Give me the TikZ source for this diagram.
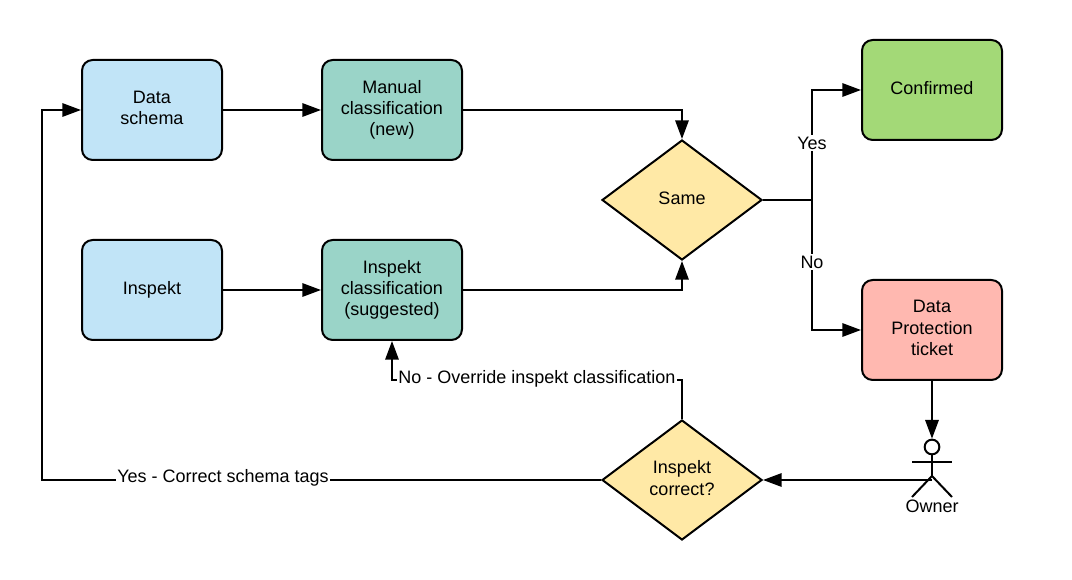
\documentclass[tikz,border=0pt]{standalone}
\usepackage{fontspec}
\setmainfont{Liberation Sans}
\usetikzlibrary{arrows.meta,shapes.geometric}
\definecolor{schemablue}{HTML}{C1E4F7}
\definecolor{classteal}{HTML}{9AD4C8}
\definecolor{decisionyellow}{HTML}{FFE9A6}
\definecolor{okgreen}{HTML}{A3D977}
\definecolor{ticketred}{HTML}{FFB8B0}
\tikzset{
    labeltext/.style={font=\fontsize{13.5}{16}\selectfont, align=center},
    box/.style={labeltext, text depth=3.2pt, draw, line width=1.5pt, rounded corners=8pt,
        minimum width=105pt, minimum height=75pt, inner sep=0pt},
    decision/.style={labeltext, text depth=3.2pt, draw, line width=1.5pt, diamond, aspect=1.333,
        fill=decisionyellow, minimum width=120pt, minimum height=90pt, inner sep=0pt},
    flow/.style={line width=1.5pt, -{Triangle[length=14pt,width=10pt]}},
    plain/.style={line width=1.5pt},
    tag/.style={labeltext, fill=white, inner sep=1pt},
}
\begin{document}
\begin{tikzpicture}[x=0.75pt,y=-0.75pt]
    \useasboundingbox (0,0) rectangle (1072,580);

    % Boxes
    \node (schema) [box,fill=schemablue] at (152,110) {Data\\schema};
    \node (manual) [box,fill=classteal] at (392,110) {Manual\\classification\\(new)};
    \node (inspekt) [box,fill=schemablue] at (152,290) {Inspekt};
    \node (suggested) [box,fill=classteal] at (392,290) {Inspekt\\classification\\(suggested)};
    \node (confirmed) [box,fill=okgreen] at (932,90) {Confirmed};
    \node (ticket) [box,fill=ticketred] at (932,330) {Data\\Protection\\ticket};

    % Decisions
    \node (same) [decision] at (682,200) {Same};
    \node (correct) [decision] at (682,480) {Inspekt\\correct?};

    % Draw owner
    \node (head) [draw,circle,line width=1.5pt,minimum size=11pt,inner sep=0pt] at (932,447) {};
    \coordinate (hip) at (932,476);
    \coordinate (waist) at (932,480);
    \coordinate (armL) at (912,462);
    \coordinate (armR) at (952,462);
    \coordinate (footL) at (912,497);
    \coordinate (footR) at (952,497);
    \draw[plain] (head.south) -- (hip);
    \draw[plain] (armL) -- (armR);
    \draw[plain] (footL) -- (hip) -- (footR);
    \node (owner) [labeltext] at (932,506) {Owner};

    % Connectors
    \draw[flow] (schema) -- (manual);
    \draw[flow] (inspekt) -- (suggested);
    \draw[flow] (manual.east) -| (same.north);
    \draw[flow] (suggested.east) -| (same.south);
    \coordinate (split) at (812,200);
    \draw[plain] (same.east) -- (split);
    \draw[flow] (split) |- (confirmed.west);
    \draw[flow] (split) |- (ticket.west);
    \node (yeslabel) [tag] at (812,143) {Yes};
    \node (nolabel) [tag] at (812,262) {No};
    \draw[flow] (ticket.south) -- (head.north);
    \draw[flow] (waist) -- (correct.east);

    \coordinate (backtop) at (682,380);
    \draw[flow] (correct.north) -- (backtop) -| (suggested.south)
        node[tag,pos=0.25,yshift=1pt] {No - Override inspekt classification};
    \coordinate (backleft) at (42,480);
    \draw[flow] (correct.west) -- (backleft) |- (schema.west);
    \node (yestag) [tag] at (223,478) {Yes - Correct schema tags};
\end{tikzpicture}
\end{document}
